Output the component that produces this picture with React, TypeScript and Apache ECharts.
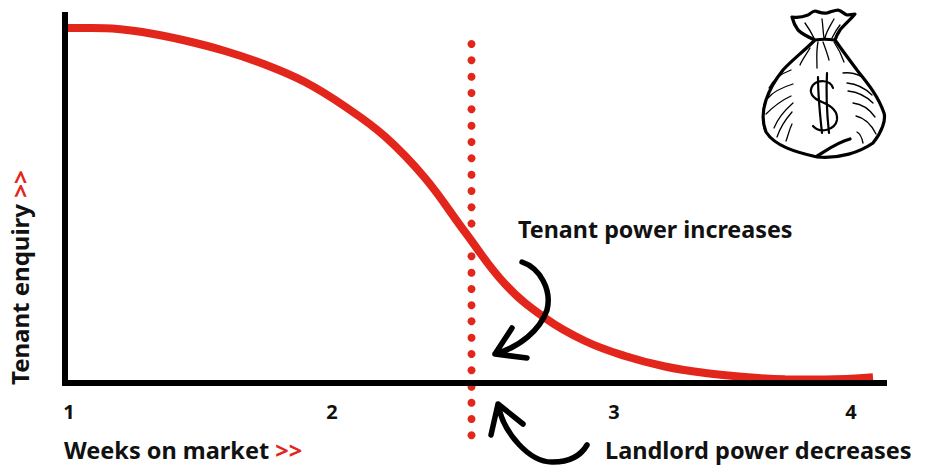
import React, { useEffect, useRef } from "react";
import * as echarts from "echarts";

const FONT = "'Noto Sans', sans-serif";
const RED = "#e3261c";

const weekLabels = ["1", "2", "3", "4"];
const weekPositions = [4, 267, 549, 786];
const curveX = [0, 40, 80, 120, 160, 200, 240, 280, 320, 360, 400, 440, 480, 520, 560, 600, 640, 680, 720, 760, 808];
const curveY = [355, 354.8, 350.5, 342.5, 332, 318.5, 301, 276.5, 246.5, 205, 151, 99, 65, 42, 27, 16.5, 10, 6, 3.7, 3.5, 5.7];
const dotX = 406.5;
const dotY = [339, 322.7, 306.3, 290, 273.7, 257.3, 241, 224.7, 208.3, 192, 175.7, 159.4, 126.7, 110.3, 94, 77.7, 61.7, 45.3, 29, 12.7, -3.7, -19.7, -36, -52.3];

const bagPaths = [
  "M792 17 C798 18 803 17 808 15 C811 13 813 11 815 11 C819 12 823 14 827 13 C831 12 835 10 838 10 C842 11 844 14 847 15 C850 15 852 14 855 14 C850 20 844 25 840 30 C838 33 836 37 835 40 C828 39 821 39 815 40 C808 37 802 34 798 30 C795 26 793 21 792 17 Z",
  "M815 40 C803 52 792 60 783 70 C775 80 769 91 766 100 C762 112 762 122 766 132 C775 146 795 152 817 157 C840 159 860 152 873 143 C882 132 886 120 884 113 C878 95 865 80 857 70 C848 58 842 50 835 40",
  "M817 156 C827 150 838 142 850 139",
].join(" ");
const foldPaths = [
  "M805 23 C810 30 812 34 814 38 M822 19 C823 26 823 32 824 38 M834 19 C830 26 826 32 825 38 M840 25 C836 30 834 34 832 38",
  "M818 42 C816 52 817 60 817 68 M823 42 C826 50 828 56 829 60 M834 42 C838 48 842 56 844 62 M810 48 C806 55 802 60 800 65",
  "M791 70 C780 74 773 80 769 88 M793 84 C780 88 773 92 768 98 M791 96 C778 102 770 110 766 114 M793 103 C785 110 778 118 774 128 M792 112 C785 120 780 128 777 137 M792 124 C789 130 788 136 786 141",
  "M843 73 C850 72 858 74 862 77 M847 83 C857 84 865 88 872 95 M848 91 C858 92 866 96 873 103 M853 103 C862 104 870 110 875 117 M856 116 C865 118 872 126 876 134 M857 132 C861 134 862 138 863 143",
].join(" ");
const dollarPath = "M833 88 C830 79 818 80 813 85 C808 92 812 98 822 102 C832 106 838 112 837 120 C835 130 820 134 813 126 M818 77 C818 95 820 115 822 133 M827 73 C826 92 827 115 829 133";
const arrowPaths = [
  "M522 262 C540 268 552 290 547 310 C540 330 520 347 495 354 M512 328 L495 354 L527 358",
  "M498 404 C503 433 530 463 553 462 C567 462 580 457 587 445 M491 435 L498 404 L523 424",
].join(" ");

echarts.graphic.registerShape("bagOutline", echarts.graphic.extendPath(bagPaths, {}));
echarts.graphic.registerShape("bagFolds", echarts.graphic.extendPath(foldPaths, {}));
echarts.graphic.registerShape("bagDollar", echarts.graphic.extendPath(dollarPath, {}));
echarts.graphic.registerShape("handArrows", echarts.graphic.extendPath(arrowPaths, {}));

export default function App() {
  const ref = useRef<HTMLDivElement>(null);
  useEffect(() => {
    const chart = echarts.init(ref.current!, null, { renderer: "svg" });
    const titleStyle = { fontFamily: FONT, fontWeight: 700, fontSize: 23.5, color: "#111" };
    const yTitleStyle = { ...titleStyle, fontSize: 24 };
    const sketch = (type: string, lineWidth: number) => ({
      type, x: 0, y: 0, z: 50,
      style: { fill: "none", stroke: "#000", lineWidth, lineCap: "round", lineJoin: "round" },
    });
    chart.setOption({
      animation: false,
      backgroundColor: "#fff",
      grid: { left: 65, top: 15, right: 42, bottom: 83, containLabel: false },
      xAxis: {
        type: "value", min: 0, max: 819, z: 5,
        name: "Weeks on market {r|>>}",
        nameLocation: "start", nameGap: 1,
        nameTextStyle: { ...titleStyle, align: "left", verticalAlign: "top", padding: [55, 0, 0, 0],
          rich: { r: { ...titleStyle, color: RED } } },
        splitLine: { show: false },
        axisLine: { show: true, onZero: false, lineStyle: { color: "#000", width: 6, cap: "square" } },
        axisTick: { show: false, customValues: weekPositions },
        axisLabel: {
          customValues: weekPositions, margin: 18,
          fontFamily: FONT, fontWeight: 700, fontSize: 20, color: "#111",
          formatter: (v: number) => weekLabels[weekPositions.indexOf(v)] ?? "",
        },
      },
      yAxis: {
        type: "value", min: 0, max: 368, z: 5,
        name: "Tenant enquiry {r|>>}",
        nameLocation: "start", nameGap: 2, nameRotate: 90,
        nameTextStyle: { ...yTitleStyle, align: "left", verticalAlign: "bottom", padding: [0, 0, 34, 0],
          rich: { r: { ...yTitleStyle, color: RED } } },
        splitLine: { show: false },
        axisLine: { show: true, onZero: false, lineStyle: { color: "#000", width: 6, cap: "square" } },
        axisTick: { show: false },
        axisLabel: { show: false },
      },
      series: [
        {
          type: "scatter", clip: false, z: 1, symbol: "circle", symbolSize: 8,
          itemStyle: { color: RED, opacity: 1 }, silent: true,
          data: dotY.map((y) => [dotX, y]),
        },
        {
          type: "line", smooth: 0.4, showSymbol: false, clip: false, z: 3,
          lineStyle: { color: RED, width: 8, cap: "butt" },
          data: curveX.map((x, i) => [x, curveY[i]]),
        },
      ],
      graphic: [
        { type: "text", x: 518, y: 217, z: 40, style: { text: "Tenant power increases", fontFamily: FONT, fontWeight: 700, fontSize: 23.3, fill: "#111" } },
        { type: "text", x: 605, y: 438, z: 40, style: { text: "Landlord power decreases", fontFamily: FONT, fontWeight: 700, fontSize: 23.5, fill: "#111" } },
        sketch("bagOutline", 3.2),
        sketch("bagFolds", 1.3),
        sketch("bagDollar", 2.2),
        sketch("handArrows", 5.5),
      ],
    });
    return () => chart.dispose();
  }, []);
  return <div ref={ref} style={{ position: "fixed", left: 0, top: 0, width: 926, height: 466 }} />;
}
